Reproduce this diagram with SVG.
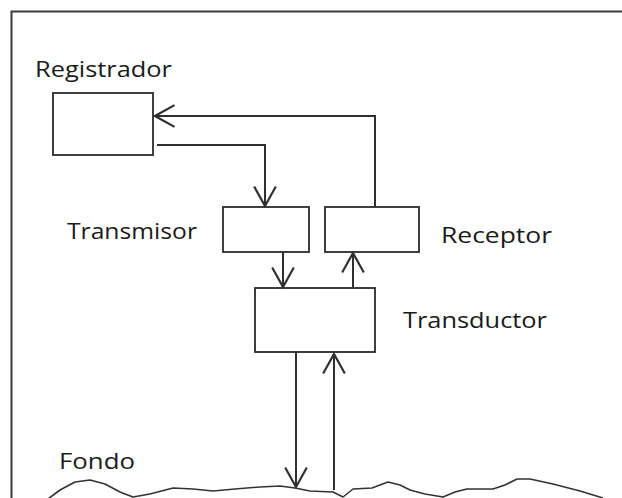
<svg xmlns="http://www.w3.org/2000/svg" width="622" height="498" viewBox="0 0 622 498">
  <style>
    .frame { fill: none; stroke: #3a3a3a; stroke-width: 2; }
    .box { fill: #ffffff; stroke: #2b2b2b; stroke-width: 1.8; }
    .wire { fill: none; stroke: #2f2f2f; stroke-width: 2; }
    .ground { fill: none; stroke: #333333; stroke-width: 1.6; stroke-linejoin: round; }
    .label { font-family: "Open Sans", "Noto Sans", "Liberation Sans", sans-serif; font-size: 22px; fill: #1a1a1a; }
  </style>
  <defs>
    <marker id="chev" markerUnits="userSpaceOnUse" markerWidth="24" markerHeight="26" viewBox="-20 -12 22 24" refX="0" refY="0" orient="auto">
      <path d="M -18,-10 L 0,0 L -18,10" fill="none" stroke="#2f2f2f" stroke-width="2"/>
    </marker>
  </defs>

  <rect width="622" height="498" fill="#ffffff"/>

  <!-- outer frame -->
  <path class="frame" d="M 11.5,499 L 11.5,11.5 L 623,11.5"/>

  <g id="registrador">
    <rect class="box" x="53" y="93" width="100" height="62"/>
    <text class="label" x="35" y="77" textLength="137" lengthAdjust="spacingAndGlyphs">Registrador</text>
  </g>

  <g id="transmisor">
    <rect class="box" x="223" y="207" width="86" height="45"/>
    <text class="label" x="67" y="239" textLength="130" lengthAdjust="spacingAndGlyphs">Transmisor</text>
  </g>

  <g id="receptor">
    <rect class="box" x="325" y="207" width="94" height="45"/>
    <text class="label" x="441" y="243" textLength="111" lengthAdjust="spacingAndGlyphs">Receptor</text>
  </g>

  <g id="transductor">
    <rect class="box" x="255" y="288" width="120" height="64"/>
    <text class="label" x="403" y="328" textLength="144" lengthAdjust="spacingAndGlyphs">Transductor</text>
  </g>

  <g id="fondo">
    <path class="ground" d="M 48,499 L 60,490 L 75,482 L 90,480 L 105,484 L 120,492 L 133,497 L 150,494 L 173,488 L 193,489 L 213,491 L 235,489 L 260,487 L 280,486 L 295,488 L 310,491 L 333,492 L 343,497 L 353,489 L 372,488 L 388,482 L 400,485 L 410,490 L 425,494 L 443,497 L 455,492 L 467,489 L 493,489 L 505,485 L 517,479 L 530,479 L 553,484 L 580,491 L 603,498"/>
    <text class="label" x="59" y="469" textLength="76" lengthAdjust="spacingAndGlyphs">Fondo</text>
  </g>

  <g id="connectors">
    <!-- Registrador to Transmisor -->
    <path class="wire" d="M 157,145 L 265,145 L 265,206" marker-end="url(#chev)"/>
    <!-- Receptor back to Registrador -->
    <path class="wire" d="M 375,207 L 375,116 L 155,116" marker-end="url(#chev)"/>
    <!-- Transmisor to Transductor -->
    <path class="wire" d="M 283,252 L 283,287" marker-end="url(#chev)"/>
    <!-- Transductor to Receptor -->
    <path class="wire" d="M 353,288 L 353,253" marker-end="url(#chev)"/>
    <!-- outgoing pulse to the seabed -->
    <path class="wire" d="M 296,352 L 296,487" marker-end="url(#chev)"/>
    <!-- echo returning to Transductor -->
    <path class="wire" d="M 334,490 L 334,354" marker-end="url(#chev)"/>
  </g>
</svg>
